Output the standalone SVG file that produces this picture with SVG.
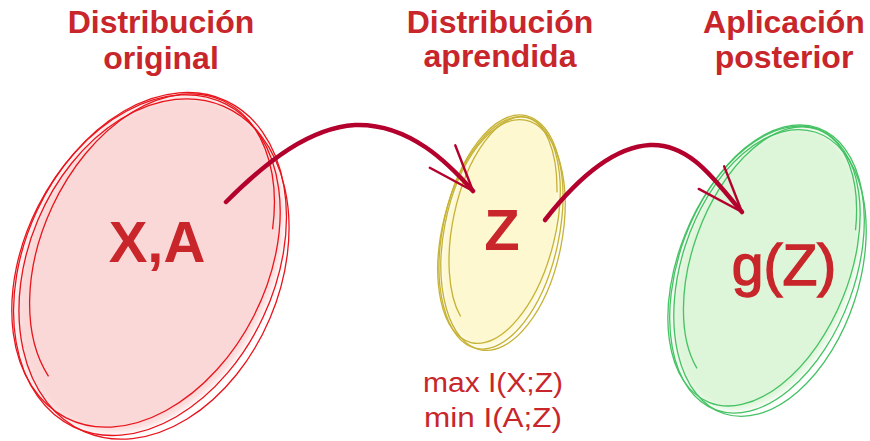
<svg xmlns="http://www.w3.org/2000/svg" width="870" height="441" viewBox="0 0 870 441">
  <style>
    text { font-family: "Liberation Sans", Arial, sans-serif; fill: #c8262b; text-anchor: middle; }
    .title { font-size: 32px; font-weight: bold; }
    .big { font-size: 58px; font-weight: bold; }
    .mid { font-size: 57px; stroke: #c8262b; stroke-width: 1.4; }
    .small { font-size: 27px; }
    .fill { filter: url(#soft); }
    .o { fill: none; stroke-width: 1.3; }
    .red .o { stroke: #e8141c; }
    .yel .o { stroke: #c6b236; }
    .grn .o { stroke: #45c264; }
    .arrow { fill: none; stroke: #b3002d; stroke-width: 4.5; stroke-linecap: round; }
  </style>
  <defs>
    <filter id="soft" x="-20%" y="-20%" width="140%" height="140%">
      <feGaussianBlur stdDeviation="3"/>
    </filter>
    <marker id="head" markerUnits="userSpaceOnUse" markerWidth="60" markerHeight="50" viewBox="-50 -25 60 50" refX="0" refY="0" orient="auto" overflow="visible">
      <path d="M0,0 L-46,-17 M0,0 L-46,17" fill="none" stroke="#b3002d" stroke-width="2.4" stroke-linecap="round"/>
    </marker>
  </defs>
  <rect width="870" height="441" fill="#ffffff"/>

  <g id="node-original" class="red">
    <ellipse class="fill" cx="150" cy="264" rx="122" ry="177" transform="rotate(25 150 264)" fill="#fbd8d8"/>
    <ellipse class="o" cx="150" cy="264" rx="125" ry="180" transform="rotate(25 150 264)"/>
    <ellipse class="o" cx="146" cy="261" rx="121" ry="176" transform="rotate(27 146 261)"/>
    <ellipse class="o" cx="154" cy="269" rx="126" ry="177" transform="rotate(23 154 269)"/>
    <ellipse class="o" cx="152" cy="253" rx="110" ry="168" transform="rotate(25 152 253)" pathLength="360" stroke-dasharray="0 108 222 30"/>
    <text class="title" x="161" y="33">Distribución</text>
    <text class="title" x="161" y="69">original</text>
    <text class="big" x="157" y="262">X,A</text>
  </g>

  <g id="node-aprendida" class="yel">
    <ellipse class="fill" cx="501" cy="232" rx="56" ry="117" transform="rotate(12 501 232)" fill="#fdf8d0"/>
    <ellipse class="o" cx="501" cy="232" rx="58" ry="119" transform="rotate(12 501 232)"/>
    <ellipse class="o" cx="499" cy="230" rx="56" ry="116" transform="rotate(14 499 230)"/>
    <ellipse class="o" cx="503" cy="235" rx="59" ry="117" transform="rotate(11 503 235)"/>
    <ellipse class="o" cx="503" cy="225" rx="50" ry="110" transform="rotate(12 503 225)" pathLength="360" stroke-dasharray="0 108 222 30"/>
    <text class="title" x="500" y="33">Distribución</text>
    <text class="title" x="500" y="67">aprendida</text>
    <text class="big" x="502" y="250">Z</text>
    <text class="small" x="493" y="392" textLength="140" lengthAdjust="spacingAndGlyphs">max I(X;Z)</text>
    <text class="small" x="493" y="427" textLength="138" lengthAdjust="spacingAndGlyphs">min I(A;Z)</text>
  </g>

  <g id="node-posterior" class="grn">
    <ellipse class="fill" cx="767" cy="269" rx="85" ry="147" transform="rotate(20 767 269)" fill="#ddf5d8"/>
    <ellipse class="o" cx="767" cy="269" rx="88" ry="150" transform="rotate(20 767 269)"/>
    <ellipse class="o" cx="764" cy="266" rx="85" ry="147" transform="rotate(22 764 266)"/>
    <ellipse class="o" cx="770" cy="273" rx="89" ry="148" transform="rotate(18 770 273)"/>
    <ellipse class="o" cx="770" cy="260" rx="77" ry="139" transform="rotate(20 770 260)" pathLength="360" stroke-dasharray="0 108 222 30"/>
    <text class="title" x="784" y="33">Aplicación</text>
    <text class="title" x="784" y="68">posterior</text>
    <text class="mid" x="784" y="285">g(Z)</text>
  </g>

  <g id="connectors">
    <path class="arrow" d="M226,202 C268,160 310,128 355,125 C410,123 450,165 473,191" marker-end="url(#head)"/>
    <path class="arrow" d="M545,220 C580,175 615,147 650,145 C692,143 718,185 742,212" marker-end="url(#head)"/>
  </g>
</svg>
